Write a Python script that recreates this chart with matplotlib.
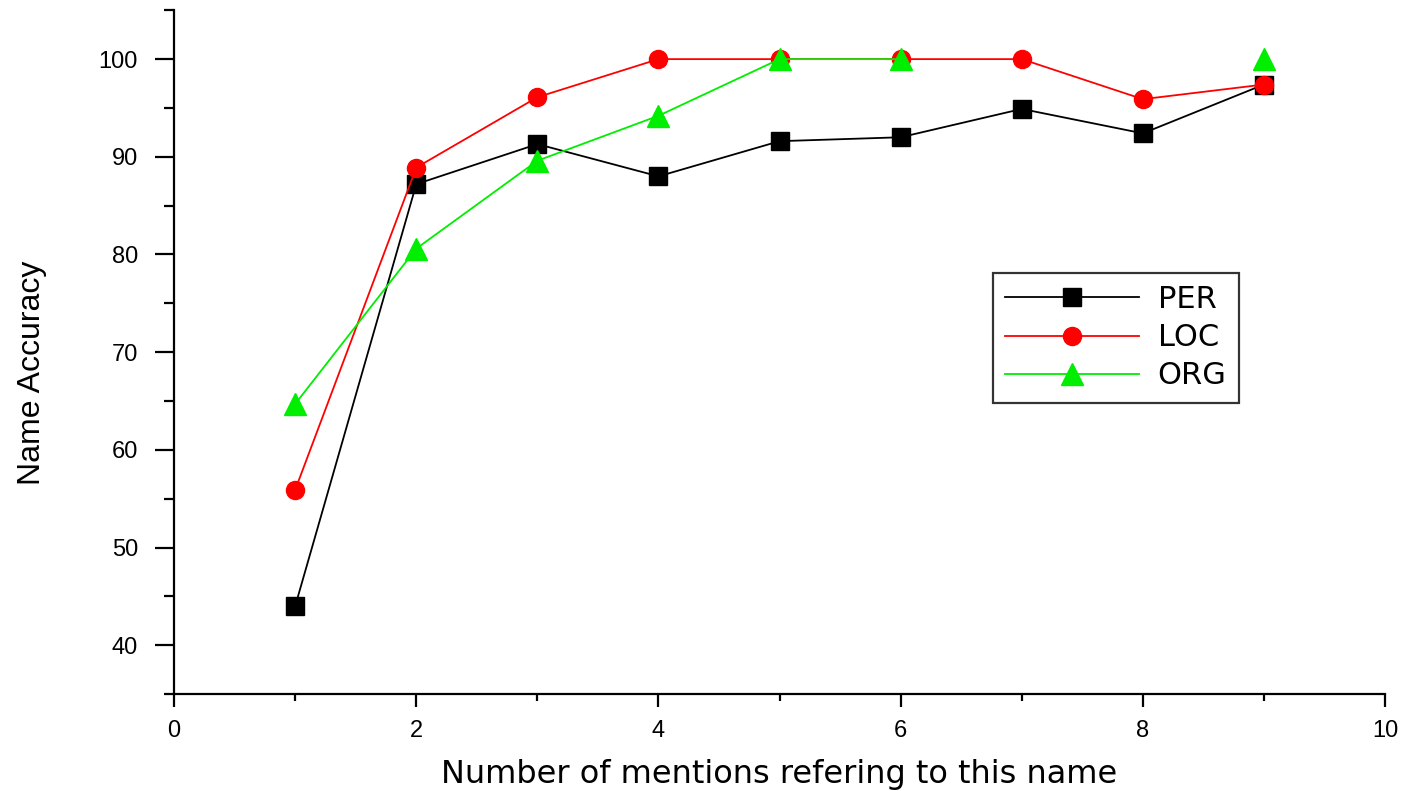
import numpy as np
import matplotlib.pyplot as plt
from matplotlib.ticker import MultipleLocator

# values
mentions = [1, 2, 3, 4, 5, 6, 7, 8, 9]
per_acc = [44.0, 87.2, 91.3, 88.0, 91.6, 92.0, 94.9, 92.4, 97.4]
loc_acc = [55.9, 88.9, 96.1, 100.0, 100.0, 100.0, 100.0, 95.9, 97.4]
org_acc = [64.7, 80.6, 89.6, 94.2, 100.0, 100.0, np.nan, np.nan, 100.0]

plt.rcParams['font.family'] = ['Liberation Sans', 'DejaVu Sans']

fig = plt.figure(figsize=(14.04, 7.91), dpi=100)
ax = fig.add_axes([0.124, 0.1226, 0.8625, 0.8644])

ax.plot(mentions, per_acc, color='black', lw=1.3, marker='s', ms=13, label='PER')
ax.plot(mentions, loc_acc, color='red', lw=1.3, marker='o', ms=13, label='LOC')
ax.plot(mentions, org_acc, color='#00ee00', lw=1.3, marker='^', ms=16, label='ORG')

ax.set_xlim(0, 10)
ax.set_ylim(35, 105)
ax.xaxis.set_major_locator(MultipleLocator(2))
ax.xaxis.set_minor_locator(MultipleLocator(1))
ax.yaxis.set_major_locator(MultipleLocator(10))
ax.yaxis.set_minor_locator(MultipleLocator(5))
ax.set_yticks([40, 50, 60, 70, 80, 90, 100])

for side in ['top', 'right']:
    ax.spines[side].set_visible(False)
for side in ['left', 'bottom']:
    ax.spines[side].set_linewidth(1.6)

ax.tick_params(axis='y', which='major', direction='out', length=14, width=1.6, pad=12)
ax.tick_params(axis='y', which='minor', direction='out', length=7, width=1.6)
ax.tick_params(axis='x', which='major', direction='out', length=9, width=1.6, pad=10)
ax.tick_params(axis='x', which='minor', direction='out', length=5, width=1.6)
for lbl in ax.get_xticklabels() + ax.get_yticklabels():
    lbl.set_fontsize(17)

ax.set_xlabel('Number of mentions refering to this name', fontsize=23,
              family='DejaVu Sans', labelpad=12)
ax.set_ylabel('Name Accuracy', fontsize=23)
ax.yaxis.set_label_coords(-0.105, 0.47)

leg = fig.legend(loc='upper left', bbox_to_anchor=(0.707, 0.655),
                 prop={'family': 'DejaVu Sans', 'size': 22},
                 handlelength=4.4, frameon=True, fancybox=False, borderpad=0.4,
                 labelspacing=0.3, handletextpad=0.6, borderaxespad=0)
leg.get_frame().set_edgecolor('black')
leg.get_frame().set_linewidth(1.6)

fig.savefig('out.png', dpi=100)
